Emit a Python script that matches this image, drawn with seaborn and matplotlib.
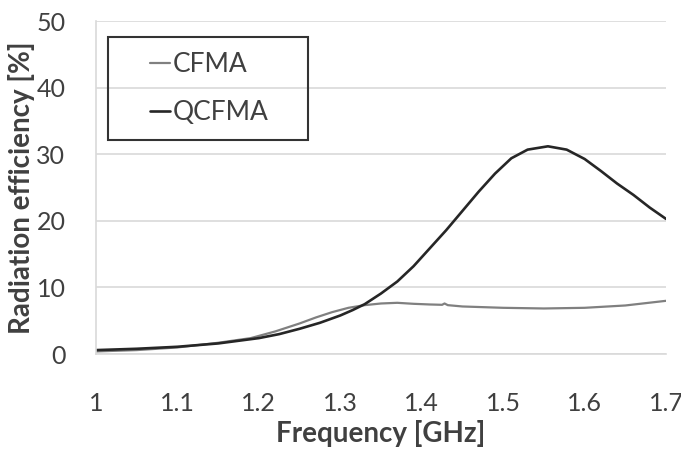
import numpy as np
import pandas as pd
import seaborn as sns
import matplotlib.pyplot as plt
from matplotlib.patches import Rectangle

# Radiation efficiency vs frequency
freq_cfma = [1.00, 1.05, 1.10, 1.15, 1.19, 1.22, 1.25, 1.27, 1.29, 1.31, 1.33,
             1.35, 1.37, 1.39, 1.41, 1.425, 1.428, 1.432, 1.45, 1.50, 1.55,
             1.60, 1.65, 1.70]
eff_cfma = [0.4, 0.6, 1.0, 1.7, 2.4, 3.4, 4.6, 5.5, 6.3, 6.95, 7.35,
            7.6, 7.7, 7.55, 7.45, 7.4, 7.6, 7.35, 7.15, 6.95, 6.85,
            6.95, 7.3, 8.0]

freq_qcfma = [1.00, 1.05, 1.10, 1.15, 1.20, 1.225, 1.25, 1.275, 1.30, 1.315,
              1.33, 1.35, 1.37, 1.39, 1.41, 1.43, 1.45, 1.47, 1.49, 1.51,
              1.53, 1.555, 1.578, 1.60, 1.62, 1.64, 1.66, 1.68, 1.70]
eff_qcfma = [0.6, 0.8, 1.1, 1.6, 2.4, 3.0, 3.8, 4.7, 5.8, 6.6,
             7.5, 9.1, 10.9, 13.2, 15.9, 18.6, 21.5, 24.4, 27.1, 29.4,
             30.7, 31.2, 30.7, 29.3, 27.5, 25.6, 23.9, 22.0, 20.3]

series = ["CFMA", "QCFMA"]
colors = {"CFMA": "#808080", "QCFMA": "#262626"}

df = pd.concat([
    pd.DataFrame({"freq": freq_cfma, "eff": eff_cfma, "antenna": "CFMA"}),
    pd.DataFrame({"freq": freq_qcfma, "eff": eff_qcfma, "antenna": "QCFMA"}),
])

sns.set_style("white")
plt.rcParams["font.family"] = ["Lato", "DejaVu Sans"]

fig = plt.figure(figsize=(6.81, 4.69), dpi=100, facecolor="white")
ax = fig.add_axes([0.141, 0.245, 0.837, 0.710])

sns.lineplot(data=df, x="freq", y="eff", hue="antenna", hue_order=series,
             palette=colors, ax=ax, legend=False, estimator=None, sort=True)
for line, lw in zip(ax.get_lines(), [1.6, 1.9]):
    line.set_linewidth(lw)
    line.set_solid_joinstyle("round")

ax.set_xlim(1.0, 1.7)
ax.set_ylim(0, 50)
ax.set_xticks(np.arange(1.0, 1.71, 0.1))
ax.set_xticklabels(["1", "1.1", "1.2", "1.3", "1.4", "1.5", "1.6", "1.7"])
ax.set_yticks(range(0, 51, 10))

grid_c = "#d9d9d9"
ax.yaxis.grid(True, color=grid_c, lw=1.2)
ax.xaxis.grid(False)
for side in ["top", "right"]:
    ax.spines[side].set_visible(False)
for side in ["left", "bottom"]:
    ax.spines[side].set_color(grid_c)
    ax.spines[side].set_linewidth(1.2)

ax.tick_params(axis="x", direction="out", length=7, width=1.2, color=grid_c,
               pad=20, labelsize=18, labelcolor="#404040")
ax.tick_params(axis="y", direction="out", length=7, width=1.2, color=grid_c,
               pad=15, labelsize=18, labelcolor="#404040")

ax.set_xlabel("Frequency [GHz]", fontsize=20, fontweight="bold", color="#404040", labelpad=4)
ax.set_ylabel("Radiation efficiency [%]", fontsize=20, fontweight="bold", color="#404040", labelpad=1)

# legend: short handles inside a wide black box
handles = ax.get_lines()
leg = ax.legend(handles, series, loc="upper left", bbox_to_anchor=(0.0947, 0.907),
                frameon=False, fontsize=19, handlelength=0.75, handletextpad=0.1,
                labelspacing=0.87, borderpad=0, borderaxespad=0)
for t in leg.get_texts():
    t.set_color("#404040")
ax.add_patch(Rectangle((0.021, 0.643), 0.351, 0.309, transform=ax.transAxes,
                       fill=False, ec="#333333", lw=1.5, zorder=5))

fig.savefig("out.png", dpi=100, facecolor="white")
plt.close(fig)
